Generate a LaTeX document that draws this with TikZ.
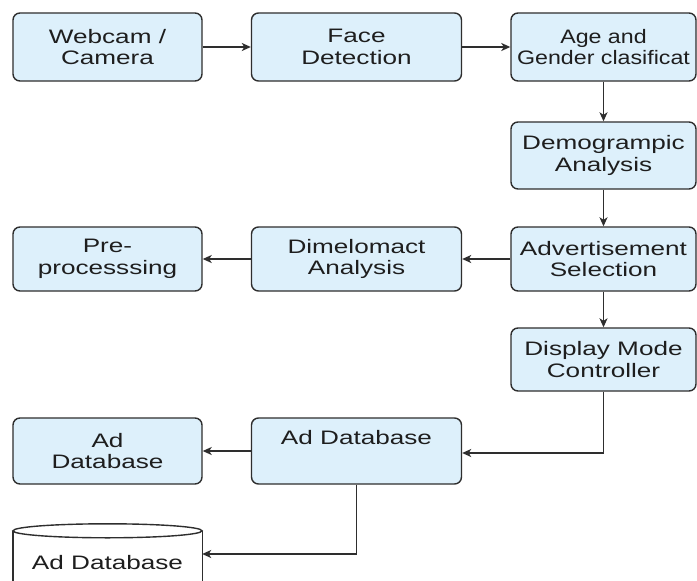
\documentclass[tikz,border=0pt]{standalone}
\usepackage{fontspec}
\setmainfont{Liberation Sans}[FakeStretch=1.34]
\newfontfamily\narrowsans{Liberation Sans}[FakeStretch=1.19]
\usetikzlibrary{arrows.meta}
\definecolor{boxfill}{HTML}{DDF0FB}
\definecolor{linecol}{HTML}{2E2E2E}
\definecolor{textcol}{HTML}{1E1E1E}
\tikzset{
  txt/.style={text=textcol, font=\fontsize{19.5}{21.5}\selectfont},
  box/.style={txt, draw=linecol, line width=1.4pt, fill=boxfill, rounded corners=7pt,
    align=center, inner sep=0pt},
  colA/.style={minimum width=189pt},
  colB/.style={minimum width=210pt},
  colC/.style={minimum width=185pt},
  conn/.style={draw=linecol, line width=1.3pt, -{Stealth[length=9pt,width=8pt,inset=2.5pt]}},
  cylline/.style={draw=linecol, line width=1.4pt},
}
\begin{document}
\begin{tikzpicture}[x=1pt,y=-1pt]
\useasboundingbox (0,0) rectangle (697,581);
\clip (0,0) rectangle (697,581);
\fill[white] (0,0) rectangle (697,581);
% row 1
\node[box, colA, minimum height=68pt] (webcam) at (107.5,47) {Webcam /\\Camera};
\node[box, colB, minimum height=68pt] (face) at (356.5,47) {Face\\Detection};
\node[box, colC, minimum height=68pt, font=\fontsize{19.5}{21.5}\narrowsans] (age) at (603.5,47) {Age and\\Gender clasificat};
% right column
\node[box, colC, minimum height=67pt] (demo) at (603.5,155.5) {Demogrampic\\Analysis};
\node[box, colC, minimum height=64pt] (adv) at (603.5,259) {Advertisement\\Selection};
\node[box, colB, minimum height=64pt] (dim) at (356.5,259) {Dimelomact\\Analysis};
\node[box, colA, minimum height=64pt] (pre) at (107.5,259) {Pre-\\processsing};
\node[box, colC, minimum height=63pt] (disp) at (603.5,359.5) {Display Mode\\Controller};
% row 5
\node[box, colB, minimum height=66pt] (admid) at (356.5,451) {Ad Database\\\strut};
\node[box, colA, minimum height=66pt] (adleft) at (107.5,451) {Ad\\Database};
% cylinder
\node[minimum width=189pt, minimum height=64pt, inner sep=0pt] (cyl) at (107.5,563) {};
\fill[white] (cyl.north west) rectangle (cyl.south east);
\draw[cylline] (cyl.south west) -- (cyl.north west) (cyl.north east) -- (cyl.south east);
\draw[cylline, fill=white] (cyl.north) ellipse [x radius=94.5pt, y radius=7pt];
\node[txt] (cyltext) at (cyl.center) {Ad Database};
% connectors
\draw[conn] (webcam) -- (face);
\draw[conn] (face) -- (age);
\draw[conn] (age) -- (demo);
\draw[conn] (demo) -- (adv);
\draw[conn] (adv) -- (dim);
\draw[conn] (dim) -- (pre);
\draw[conn] (adv) -- (disp);
\draw[conn] (disp.south) |- ([yshift=-2pt]admid.east);
\draw[conn] (admid) -- (adleft);
\draw[conn] (admid.south) |- ([yshift=9pt]cyl.east);
\end{tikzpicture}
\end{document}
